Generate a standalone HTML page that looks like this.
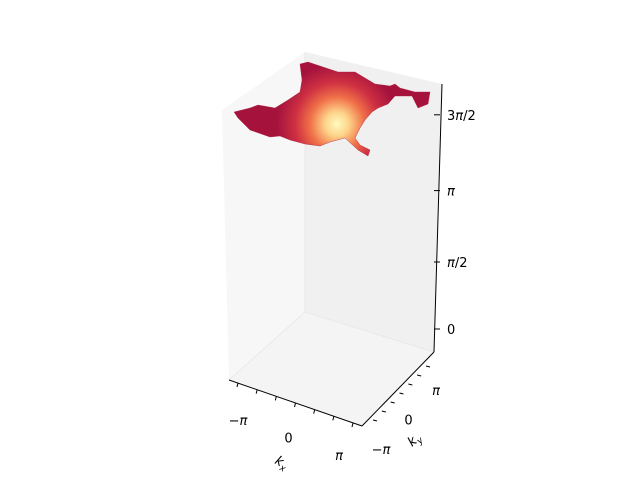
<!DOCTYPE html>
<html><head><meta charset="utf-8"><style>
html,body{margin:0;padding:0;background:#fff}
svg{display:block;font-family:"DejaVu Sans","Liberation Sans",sans-serif}
</style></head><body>
<svg id="chart" width="640" height="480" viewBox="0 0 640 480">
<defs>
<radialGradient id="surfGrad" cx="337" cy="124" r="60" gradientUnits="userSpaceOnUse">
<stop offset="0" stop-color="#fffbc0"/>
<stop offset="0.2" stop-color="#fdd389"/>
<stop offset="0.45" stop-color="#f07048"/>
<stop offset="0.7" stop-color="#cf3042"/>
<stop offset="1" stop-color="#a5133d"/>
</radialGradient>
</defs>
<polygon points="229,380 305,312 305,52 222,110" fill="#f7f7f7"/>
<polygon points="305,312 434,352 442,84 305,52" fill="#f0f0f0"/>
<polygon points="229,380 362,426 434,352 305,312" fill="#f4f4f4"/>
<g stroke="#e6e6e6" stroke-width="0.8" fill="none">
<line x1="305" y1="312" x2="305" y2="52"/><line x1="305" y1="312" x2="229" y2="380"/><line x1="305" y1="312" x2="434" y2="352"/>
</g>
<path fill="url(#surfGrad)" stroke="#b0203f" stroke-width="0.4"
d="M300,64 L308,62 L320,66 L338,72 L355,72 L365,78 L375,84 L390,86 L395,84 L400,88 L415,92 L430,92 L428,104 L418,108 L412,96 L395,96 L388,104 L378,108 L372,112 L365,120 L360,128 L355,138 L360,145 L370,150 L368,156 L358,150 L345,138 L330,142 L320,146 L305,144 L290,140 L280,136 L270,137 L250,130 L238,118 L234,112 L250,108 L258,105 L275,108 L288,100 L300,92 L302,80 Z"/>
<g id="axes" stroke="#000" stroke-width="1" fill="none">
<line x1="229" y1="380" x2="362" y2="426"/>
<line x1="362" y1="426" x2="434" y2="352"/>
<line x1="434" y1="352" x2="442" y2="84"/>
</g>
<g id="ticks"></g>
<text x="274" y="463" font-size="13" font-style="italic" transform="rotate(30 274 463)">k<tspan font-size="9" dy="3">x</tspan></text>
<text x="412" y="447" font-size="13" font-style="italic" transform="rotate(-40 412 447)">k<tspan font-size="9" dy="3">y</tspan></text>
</svg>
<script>
const xTickLabels=["\u2212\u03c0","0","\u03c0"];
const xTickVals=[-Math.PI,0,Math.PI];
const yTickLabels=["\u2212\u03c0","0","\u03c0"];
const yTickVals=[-Math.PI,0,Math.PI];
const zTickLabels=["0","\u03c0/2","\u03c0","3\u03c0/2"];
const zTickVals=[0,Math.PI/2,Math.PI,1.5*Math.PI];
const NS="http://www.w3.org/2000/svg";
const g=document.getElementById('ticks');
function lerp(a,b,t){return [a[0]+(b[0]-a[0])*t,a[1]+(b[1]-a[1])*t];}
function xAxis(v){return lerp([238,383],[353,423],(v+4.2)/8.4);}
function yAxis(v){return lerp([373,420],[426,366],(v+4.2)/8.4);}
function xLabelPos(v){return lerp([238,425],[339,460],(v+Math.PI)/(2*Math.PI));}
function yLabelPos(v){return lerp([381,454],[436,395],(v+Math.PI)/(2*Math.PI));}
function zAxis(v){const s=v/(Math.PI/2);return [436,329-64.8*s-2.2*s*s];}
function mk(tag,attrs,txt){const e=document.createElementNS(NS,tag);for(const k in attrs)e.setAttribute(k,attrs[k]);if(txt!==undefined)e.textContent=txt;g.appendChild(e);return e;}
function label(t,txt){t.innerHTML=txt.replace(/\u03c0/g,'<tspan font-style="italic">\u03c0</tspan>');}
for(let i=-3;i<=3;i++){const p=xAxis(i*1.4);const t=mk('line',{x1:p[0],y1:p[1],x2:p[0]-1,y2:p[1]+4,stroke:'#000'});

}
xTickVals.forEach((v,i)=>{const p=xLabelPos(v);const t=mk('text',{x:p[0],y:p[1],'font-size':13,'text-anchor':'middle'});label(t,xTickLabels[i]);

});
for(let i=-3;i<=3;i++){const p=yAxis(i*1.4);const t=mk('line',{x1:p[0],y1:p[1],x2:p[0]+4,y2:p[1]+1,stroke:'#000'});

}
yTickVals.forEach((v,i)=>{const p=yLabelPos(v);const t=mk('text',{x:p[0],y:p[1],'font-size':13,'text-anchor':'middle'});label(t,yTickLabels[i]);

});
zTickVals.forEach((v,i)=>{const p=zAxis(v);const l=mk('line',{x1:p[0]-2,y1:p[1],x2:p[0]+4,y2:p[1],stroke:'#000'});


const t=mk('text',{x:p[0]+11,y:p[1]+5,'font-size':13});label(t,zTickLabels[i]);

});
</script>
</body></html>
